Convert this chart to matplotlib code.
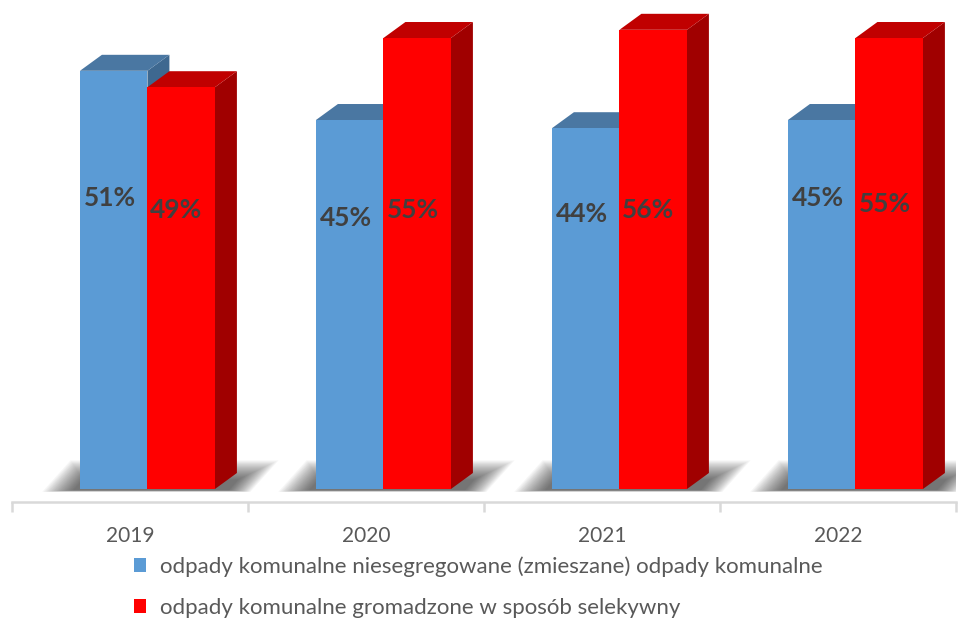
import matplotlib
matplotlib.use('Agg')
from matplotlib import pyplot as plt
from matplotlib.patches import Polygon, Rectangle, Patch

plt.rcParams['font.family'] = ['Lato', 'DejaVu Sans']

# data
years = ['2019', '2020', '2021', '2022']
mixed = [51, 45, 44, 45]
selective = [49, 55, 56, 55]
mixed_label_h = [35.5, 33.0, 33.5, 35.5]
selective_label_h = [34.0, 34.0, 34.0, 34.8]

names = ['odpady komunalne niesegregowane (zmieszane) odpady komunalne',
         'odpady komunalne gromadzone w sposób selekywny']

blue = ('#5B9BD5', '#4A77A2', '#3E6890')   # front, top, side
red = ('#FF0000', '#C00000', '#A00000')

W, H = 968, 621
fig = plt.figure(figsize=(W / 100, H / 100), dpi=100)
ax = fig.add_axes([12 / W, 0, 944 / W, 1])

pxy = 8.2                      # pixels per percent
ax.set_xlim(-0.5, 3.5)
ax.set_ylim(-(H - 489) / pxy, 489 / pxy)

bw = 0.286                     # bar width
off = -0.212                   # left edge of first bar from category centre
dx, dy = 0.093, 1.95           # 3d depth


def bar3d(x0, h, cols, z):
    front, top, side = cols
    ax.add_patch(Polygon([(x0 + bw, 0), (x0 + bw + dx, dy), (x0 + bw + dx, h + dy), (x0 + bw, h)],
                         closed=True, fc=side, ec='none', zorder=z))
    ax.add_patch(Polygon([(x0, h), (x0 + bw, h), (x0 + bw + dx, h + dy), (x0 + dx, h + dy)],
                         closed=True, fc=top, ec='none', zorder=z + 0.1))
    ax.add_patch(Rectangle((x0, 0), bw, h, fc=front, ec='none', zorder=z + 0.2))


def shadow(x0):
    # soft shadow behind the base of a bar pair, built from stacked faint layers
    n = 20
    for k in range(n):
        s = k / (n - 1)
        l0 = x0 - 0.16 + 0.13 * s
        r0 = x0 + 2 * bw + 0.15 - 0.09 * s
        t = 3.5 - 2.3 * s
        b = -0.35 + 0.2 * s
        sl = 0.12 * (t / 3.5)
        ax.add_patch(Polygon([(l0, b), (r0, b), (r0 + sl, t), (l0 + sl, t)],
                             closed=True, fc='#000000', ec='none', alpha=0.036, zorder=1))


for i in range(len(years)):
    x0 = i + off
    shadow(x0)
    bar3d(x0, mixed[i], blue, 2)
    bar3d(x0 + bw, selective[i], red, 3)
    ax.text(x0 + bw / 2 - 0.015, mixed_label_h[i], f'{mixed[i]}%', ha='center', va='center',
            fontsize=19, fontweight='bold', color='#404040', zorder=5)
    ax.text(x0 + 1.5 * bw - 0.02, selective_label_h[i], f'{selective[i]}%', ha='center', va='center',
            fontsize=19, fontweight='bold', color='#404040', zorder=5)

# axis
for s in ['top', 'right', 'left']:
    ax.spines[s].set_visible(False)
ax.spines['bottom'].set_position(('data', -13 / pxy))
ax.spines['bottom'].set_color('#D9D9D9')
ax.spines['bottom'].set_linewidth(1.8)
ax.set_yticks([])
ax.set_xticks([-0.5, 0.5, 1.5, 2.5, 3.5])
ax.set_xticklabels([])
ax.tick_params(axis='x', which='major', length=7, width=1.8, color='#D9D9D9')
ax.set_xticks(range(len(years)), minor=True)
ax.set_xticklabels(years, minor=True)
ax.tick_params(axis='x', which='minor', length=0, pad=17, labelsize=15, labelcolor='#595959')
ax.patch.set_alpha(0)

handles = [Patch(fc=blue[0], ec='none'), Patch(fc=red[0], ec='none')]
fig.legend(handles, names, loc='center left', bbox_to_anchor=(114 / W, 1 - 587 / H),
           frameon=False, fontsize=16, labelcolor='#595959', handlelength=0.55,
           handleheight=0.55, handletextpad=0.6, labelspacing=0.95, borderpad=0.4)

fig.savefig('out.png', dpi=100)
